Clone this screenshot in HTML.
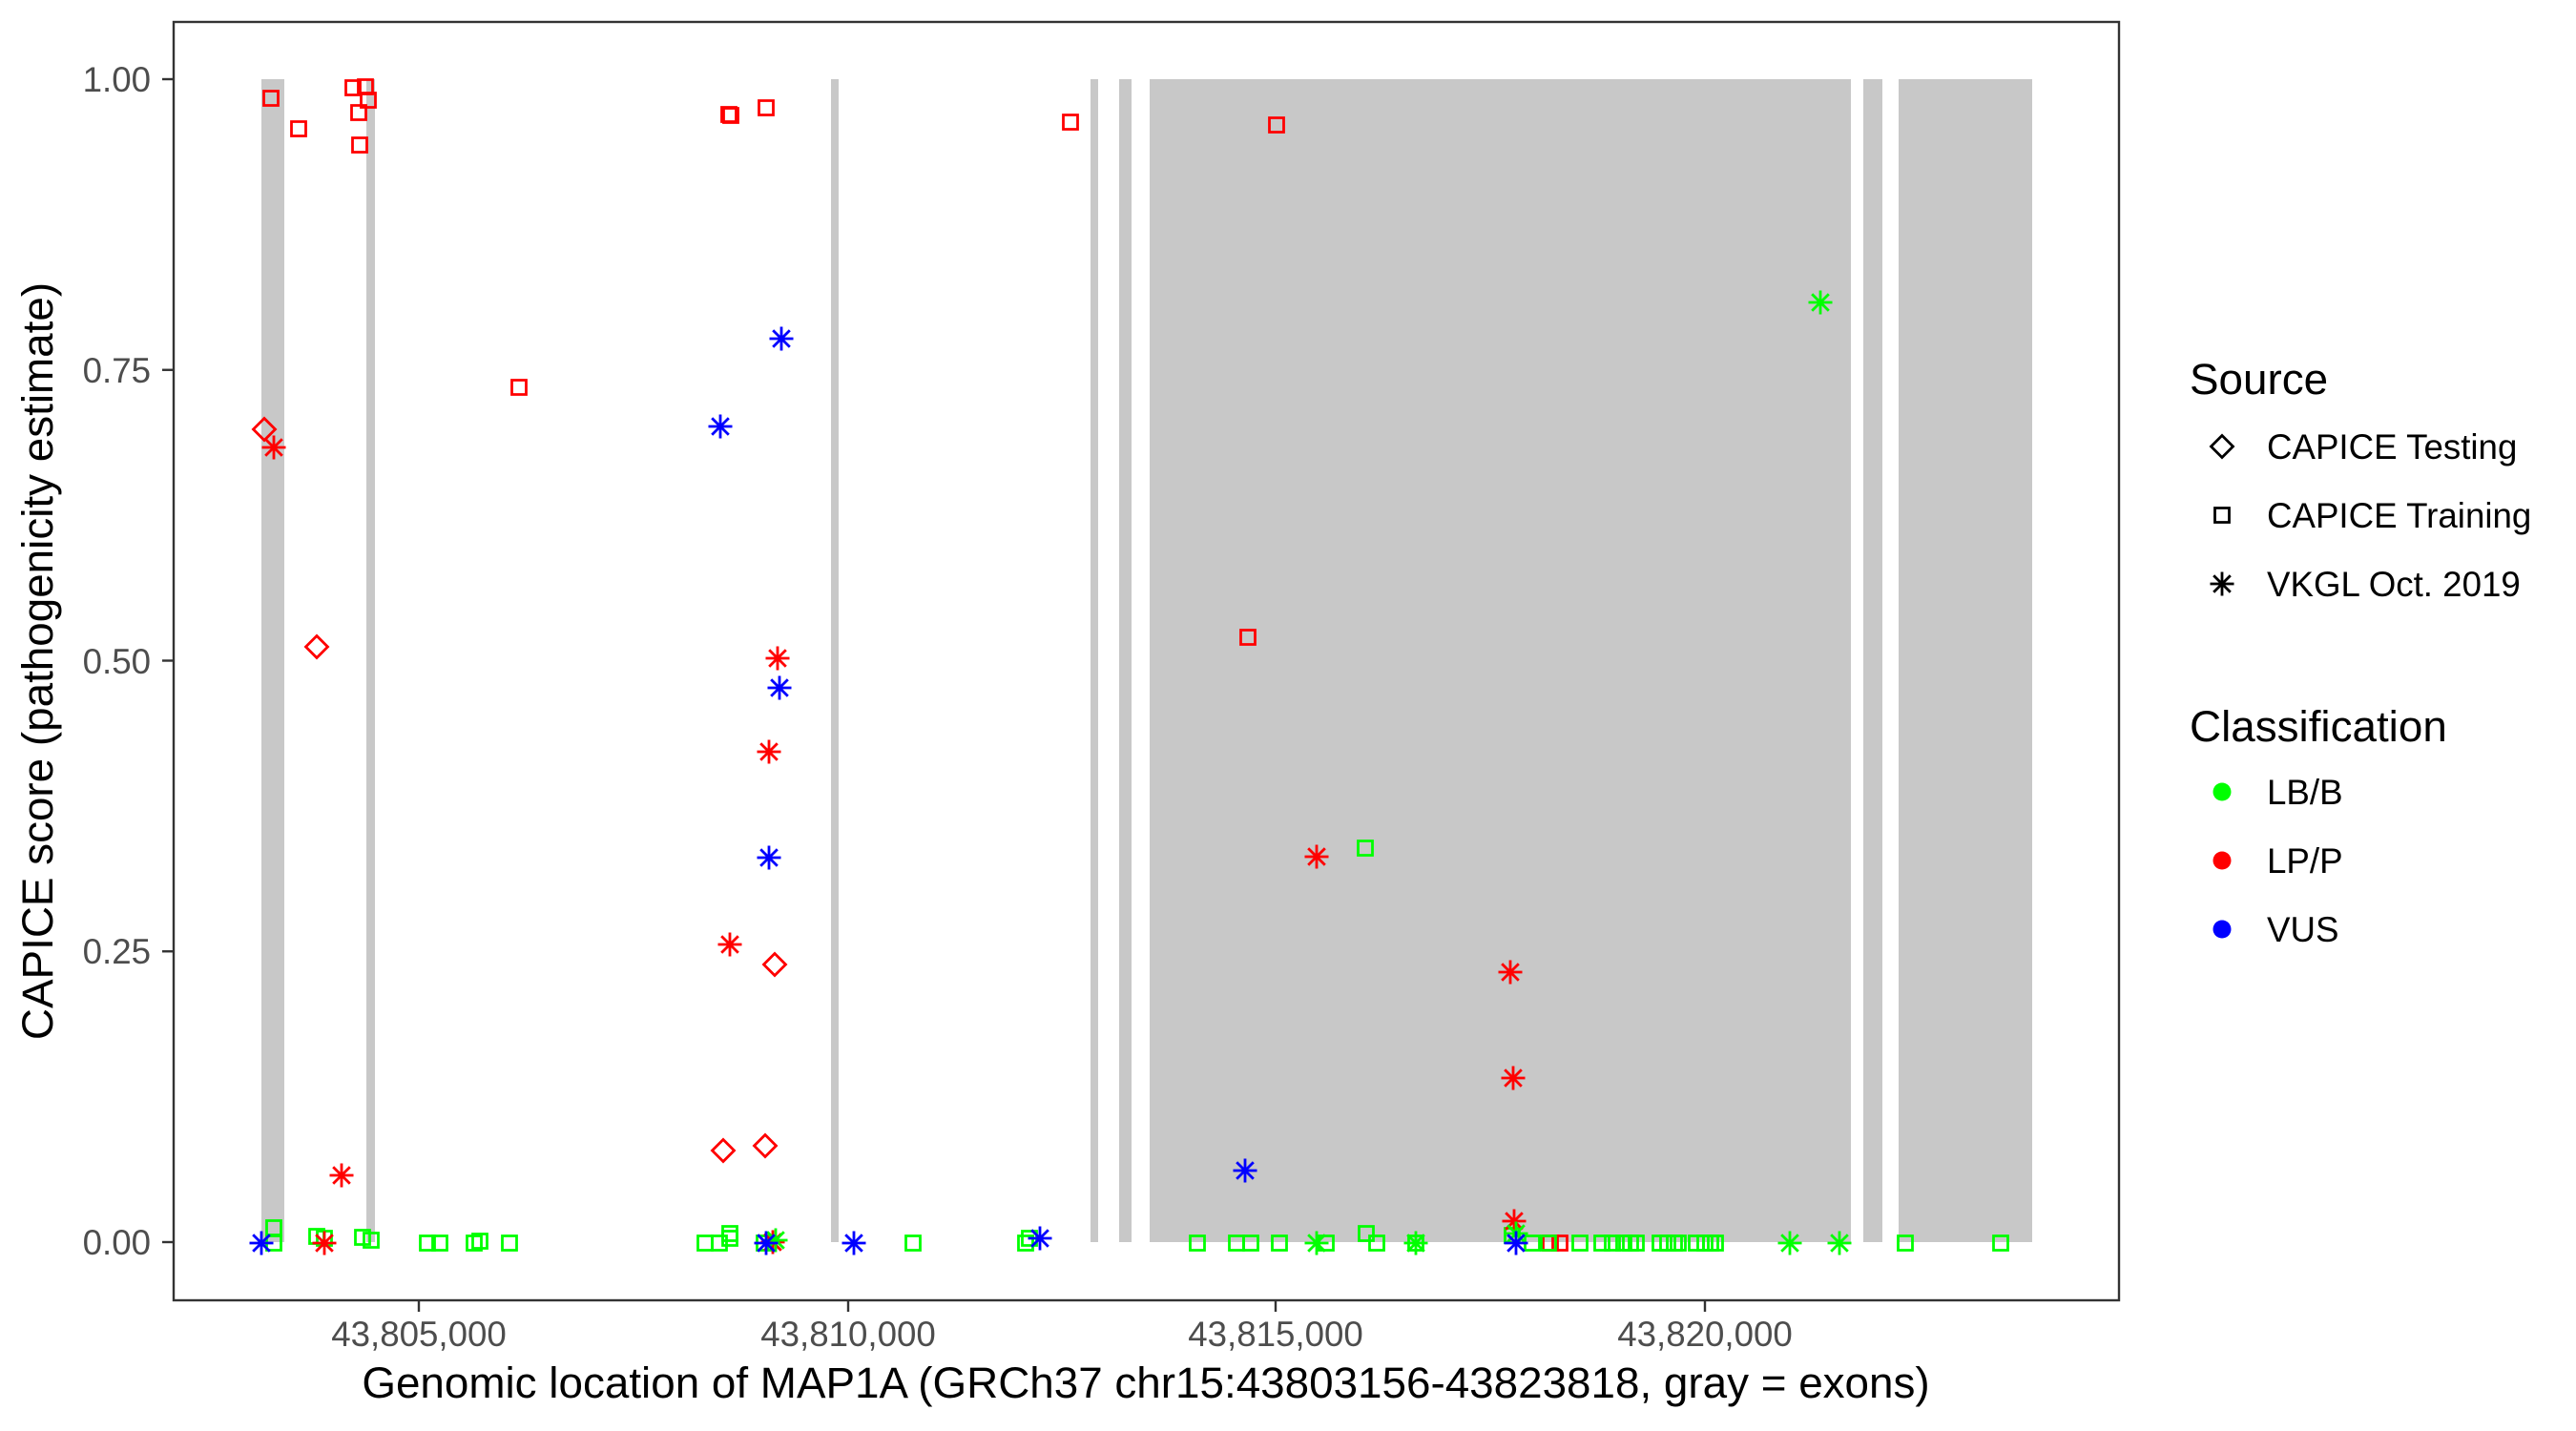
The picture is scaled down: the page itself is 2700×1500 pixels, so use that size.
<!DOCTYPE html>
<html>
<head>
<meta charset="utf-8">
<style>
  html, body { margin: 0; padding: 0; background: #ffffff; }
  svg { display: block; }
  text { font-family: "Liberation Sans", Arial, Helvetica, sans-serif; }
</style>
</head>
<body>
<svg xmlns="http://www.w3.org/2000/svg" xmlns:xlink="http://www.w3.org/1999/xlink" width="2700" height="1500" viewBox="0 0 2700 1500">
  <defs>
    <path id="sq" d="M-7.5,-7.5h15v15h-15z" fill="none"/>
    <path id="dm" d="M0,-11.5L11.5,0L0,11.5L-11.5,0Z" fill="none"/>
    <path id="ast" d="M0,-12.5V12.5M-12.5,0H12.5M-8.8,-8.8L8.8,8.8M-8.8,8.8L8.8,-8.8" fill="none"/>
  </defs>
  <rect x="0" y="0" width="2700" height="1500" fill="#ffffff"/>

  <g fill="#c8c8c8">
    <rect x="274" y="83" width="24" height="1219"/>
    <rect x="384" y="83" width="9" height="1219"/>
    <rect x="871" y="83" width="8" height="1219"/>
    <rect x="1143" y="83" width="8" height="1219"/>
    <rect x="1173" y="83" width="13" height="1219"/>
    <rect x="1205" y="83" width="735" height="1219"/>
    <rect x="1953" y="83" width="20" height="1219"/>
    <rect x="1990" y="83" width="140" height="1219"/>
  </g>

  <g stroke="#00ff00" stroke-width="2.8">
    <use xlink:href="#sq" x="287" y="1303"/>
    <use xlink:href="#sq" x="287" y="1287"/>
    <use xlink:href="#sq" x="332" y="1296"/>
    <use xlink:href="#sq" x="340" y="1298"/>
    <use xlink:href="#sq" x="380" y="1297"/>
    <use xlink:href="#sq" x="389" y="1300"/>
    <use xlink:href="#sq" x="448" y="1303"/>
    <use xlink:href="#sq" x="461" y="1303"/>
    <use xlink:href="#sq" x="497" y="1303"/>
    <use xlink:href="#sq" x="503" y="1301"/>
    <use xlink:href="#sq" x="534" y="1303"/>
    <use xlink:href="#sq" x="739" y="1303"/>
    <use xlink:href="#sq" x="754" y="1303"/>
    <use xlink:href="#sq" x="765" y="1298"/>
    <use xlink:href="#sq" x="765" y="1293"/>
    <use xlink:href="#sq" x="801" y="1303"/>
    <use xlink:href="#sq" x="957" y="1303"/>
    <use xlink:href="#sq" x="1075" y="1303"/>
    <use xlink:href="#sq" x="1079" y="1298"/>
    <use xlink:href="#sq" x="1255" y="1303"/>
    <use xlink:href="#sq" x="1296" y="1303"/>
    <use xlink:href="#sq" x="1311" y="1303"/>
    <use xlink:href="#sq" x="1341" y="1303"/>
    <use xlink:href="#sq" x="1390" y="1303"/>
    <use xlink:href="#sq" x="1432" y="1293"/>
    <use xlink:href="#sq" x="1443" y="1303"/>
    <use xlink:href="#sq" x="1484" y="1303"/>
    <use xlink:href="#sq" x="1585" y="1295"/>
    <use xlink:href="#sq" x="1606" y="1303"/>
    <use xlink:href="#sq" x="1656" y="1303"/>
    <use xlink:href="#sq" x="1679" y="1303"/>
    <use xlink:href="#sq" x="1690" y="1303"/>
    <use xlink:href="#sq" x="1702" y="1303"/>
    <use xlink:href="#sq" x="1709" y="1303"/>
    <use xlink:href="#sq" x="1715" y="1303"/>
    <use xlink:href="#sq" x="1740" y="1303"/>
    <use xlink:href="#sq" x="1748" y="1303"/>
    <use xlink:href="#sq" x="1755" y="1303"/>
    <use xlink:href="#sq" x="1759" y="1303"/>
    <use xlink:href="#sq" x="1778" y="1303"/>
    <use xlink:href="#sq" x="1787" y="1303"/>
    <use xlink:href="#sq" x="1793" y="1303"/>
    <use xlink:href="#sq" x="1798" y="1303"/>
    <use xlink:href="#sq" x="1997" y="1303"/>
    <use xlink:href="#sq" x="2097" y="1303"/>
    <use xlink:href="#sq" x="1431" y="889"/>
  </g>

  <g stroke="#ff0000" stroke-width="2.8">
    <use xlink:href="#sq" x="284" y="103"/>
    <use xlink:href="#sq" x="313" y="135"/>
    <use xlink:href="#sq" x="370" y="92"/>
    <use xlink:href="#sq" x="383" y="91"/>
    <use xlink:href="#sq" x="386" y="105"/>
    <use xlink:href="#sq" x="376" y="118"/>
    <use xlink:href="#sq" x="377" y="152"/>
    <use xlink:href="#sq" x="544" y="406"/>
    <use xlink:href="#sq" x="764" y="120"/>
    <use xlink:href="#sq" x="766" y="121"/>
    <use xlink:href="#sq" x="803" y="113"/>
    <use xlink:href="#sq" x="1122" y="128"/>
    <use xlink:href="#sq" x="1338" y="131"/>
    <use xlink:href="#sq" x="1308" y="668"/>
    <use xlink:href="#sq" x="1625" y="1303"/>
    <use xlink:href="#sq" x="1635" y="1303"/>
  </g>

  <g stroke="#00ff00" stroke-width="2.8">
    <use xlink:href="#sq" x="1623" y="1303"/>
  </g>

  <g stroke="#ff0000" stroke-width="2.8">
    <use xlink:href="#dm" x="277" y="450"/>
    <use xlink:href="#dm" x="332" y="678"/>
    <use xlink:href="#dm" x="758" y="1206"/>
    <use xlink:href="#dm" x="802" y="1201"/>
    <use xlink:href="#dm" x="812" y="1011"/>
  </g>

  <g stroke="#ff0000" stroke-width="2.8">
    <use xlink:href="#ast" x="287" y="469"/>
    <use xlink:href="#ast" x="340" y="1303"/>
    <use xlink:href="#ast" x="358" y="1232"/>
    <use xlink:href="#ast" x="815" y="690"/>
    <use xlink:href="#ast" x="806" y="788"/>
    <use xlink:href="#ast" x="765" y="990"/>
    <use xlink:href="#ast" x="810" y="1302"/>
    <use xlink:href="#ast" x="1380" y="898"/>
    <use xlink:href="#ast" x="1583" y="1019"/>
    <use xlink:href="#ast" x="1586" y="1130"/>
    <use xlink:href="#ast" x="1587" y="1280"/>
  </g>

  <g stroke="#00ff00" stroke-width="2.8">
    <use xlink:href="#ast" x="813" y="1300"/>
    <use xlink:href="#ast" x="1380" y="1303"/>
    <use xlink:href="#ast" x="1484" y="1303"/>
    <use xlink:href="#ast" x="1589" y="1293"/>
    <use xlink:href="#ast" x="1876" y="1303"/>
    <use xlink:href="#ast" x="1928" y="1303"/>
    <use xlink:href="#ast" x="1908" y="317"/>
  </g>

  <g stroke="#0000ff" stroke-width="2.8">
    <use xlink:href="#ast" x="274" y="1303"/>
    <use xlink:href="#ast" x="755" y="447"/>
    <use xlink:href="#ast" x="819" y="355"/>
    <use xlink:href="#ast" x="817" y="721"/>
    <use xlink:href="#ast" x="806" y="899"/>
    <use xlink:href="#ast" x="803" y="1303"/>
    <use xlink:href="#ast" x="895" y="1303"/>
    <use xlink:href="#ast" x="1090" y="1298"/>
    <use xlink:href="#ast" x="1305" y="1227"/>
    <use xlink:href="#ast" x="1589" y="1303"/>
  </g>

  <rect x="182" y="23" width="2039" height="1340" fill="none" stroke="#333333" stroke-width="2.4"/>

  <g stroke="#333333" stroke-width="2.4">
    <line x1="170" y1="83" x2="182" y2="83"/>
    <line x1="170" y1="387.75" x2="182" y2="387.75"/>
    <line x1="170" y1="692.5" x2="182" y2="692.5"/>
    <line x1="170" y1="997.25" x2="182" y2="997.25"/>
    <line x1="170" y1="1302" x2="182" y2="1302"/>
  </g>
  <g font-size="36.7" fill="#4d4d4d" text-anchor="end">
    <text x="158" y="96">1.00</text>
    <text x="158" y="401">0.75</text>
    <text x="158" y="706">0.50</text>
    <text x="158" y="1010">0.25</text>
    <text x="158" y="1315">0.00</text>
  </g>

  <g stroke="#333333" stroke-width="2.4">
    <line x1="439" y1="1363" x2="439" y2="1375"/>
    <line x1="889" y1="1363" x2="889" y2="1375"/>
    <line x1="1337" y1="1363" x2="1337" y2="1375"/>
    <line x1="1787" y1="1363" x2="1787" y2="1375"/>
  </g>
  <g font-size="36.7" fill="#4d4d4d" text-anchor="middle">
    <text x="439" y="1411">43,805,000</text>
    <text x="889" y="1411">43,810,000</text>
    <text x="1337" y="1411">43,815,000</text>
    <text x="1787" y="1411">43,820,000</text>
  </g>

  <text x="1201" y="1465" font-size="45.8" fill="#000000" text-anchor="middle">Genomic location of MAP1A (GRCh37 chr15:43803156-43823818, gray = exons)</text>
  <text transform="translate(55,693) rotate(-90)" font-size="45.8" fill="#000000" text-anchor="middle">CAPICE score (pathogenicity estimate)</text>

  <text x="2295" y="413" font-size="45.8" fill="#000000">Source</text>
  <g stroke="#000000" stroke-width="2.8">
    <use xlink:href="#dm" x="2329" y="468"/>
    <use xlink:href="#sq" x="2329" y="540"/>
    <use xlink:href="#ast" x="2329" y="612"/>
  </g>
  <g font-size="36.7" fill="#000000">
    <text x="2376" y="481">CAPICE Testing</text>
    <text x="2376" y="553">CAPICE Training</text>
    <text x="2376" y="625">VKGL Oct. 2019</text>
  </g>

  <text x="2295" y="777" font-size="45.8" fill="#000000">Classification</text>
  <circle cx="2329" cy="830" r="9.5" fill="#00ff00"/>
  <circle cx="2329" cy="902" r="9.5" fill="#ff0000"/>
  <circle cx="2329" cy="974" r="9.5" fill="#0000ff"/>
  <g font-size="36.7" fill="#000000">
    <text x="2376" y="843">LB/B</text>
    <text x="2376" y="915">LP/P</text>
    <text x="2376" y="987">VUS</text>
  </g>
</svg>
</body>
</html>
